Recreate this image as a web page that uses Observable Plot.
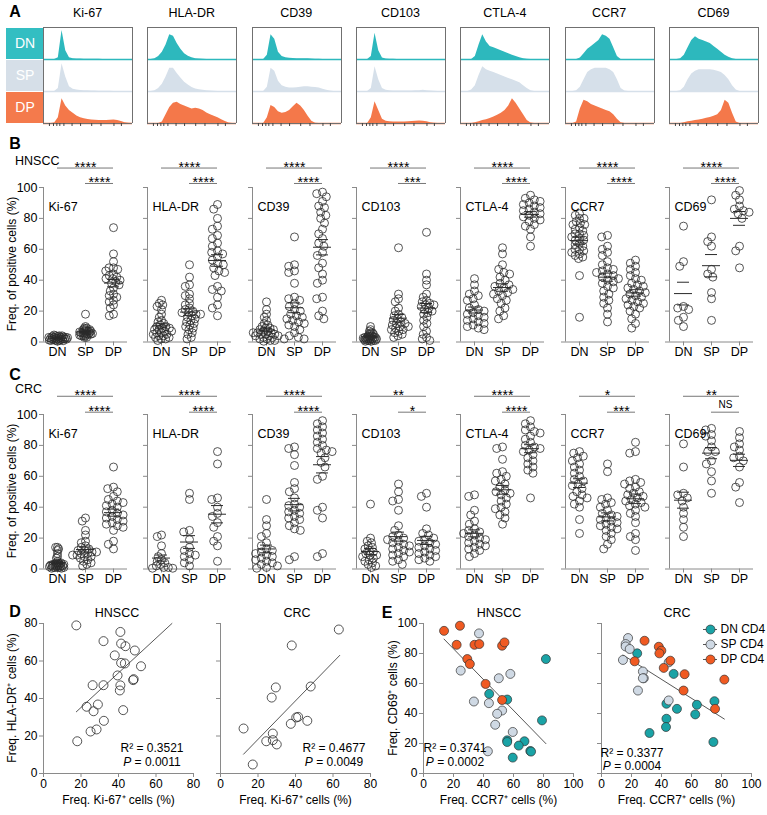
<!DOCTYPE html>
<html><head><meta charset="utf-8">
<script src="https://cdn.jsdelivr.net/npm/d3@7"></script>
<script src="https://cdn.jsdelivr.net/npm/@observablehq/plot@0.6"></script>
<style>
body{margin:0;background:#fff;}
#fig{position:relative;width:767px;height:815px;font-family:"Liberation Sans",Arial,Helvetica,sans-serif;color:#000;overflow:hidden;background:#fff}
</style></head><body><div id="fig"></div>
<script>
// ---------- categories ----------
const markers = ["Ki-67","HLA-DR","CD39","CD103","CTLA-4","CCR7","CD69"];
const groups = ["DN","SP","DP"];
const yTicks = [0,20,40,60,80,100];
const histTicks = [1.6,2.7,3.6,4.4,5.5,7.7,10,13,15.5,19,21];

// ---------- panel A: histogram heights (25 bins, DN/SP/DP) ----------
const histKi67 = [
 [0,0,0,0,0.6,10,3,0.6,0.3,0.2,0.15,0.1,0.1,0.1,0.1,0.05,0,0,0,0,0,0,0,0,0],
 [0,0,0,0,1,9.5,5,1.6,0.8,0.5,0.35,0.3,0.25,0.2,0.15,0.1,0.1,0.1,0.05,0,0,0,0,0,0],
 [0,0,0,0.2,2,8.5,6,4.5,3.5,2.6,2,1.6,1.4,1.2,1.1,1,1,1,1.1,1.2,1,0.7,0.3,0.1,0]];
const histHLADR = [
 [0,0,0.3,1,2.5,5,8.5,8,5.5,3.5,2,1.1,0.6,0.3,0.15,0.05,0,0,0,0,0,0,0,0,0],
 [0,0,0.3,1,2.5,5,8,8,6.2,4.6,3.2,2.2,1.4,0.9,0.6,0.4,0.25,0.15,0.05,0,0,0,0,0,0],
 [0,0,0,0,0.5,3,5.5,7,7.3,6.5,6,5.5,5,5.2,5,4.5,3.6,3,2.5,2,1.3,0.7,0.2,0,0]];
const histCD39 = [
 [0,0,0,0,1.5,8.5,7,2.5,1,0.6,0.45,0.35,0.3,0.3,0.3,0.25,0.2,0.1,0.05,0,0,0,0,0,0],
 [0,0,0,0,1.5,8,7,3.5,2,1.5,1.2,1.2,1.3,1.5,1.6,1.6,1.5,1.4,1.2,0.8,0.4,0.15,0,0,0],
 [0,0,0,0,2,6.2,5.5,4,3.5,3.8,4.5,5.8,7,6,4.5,2.5,0.8,0.1,0,0,0,0,0,0,0]];
const histCD103 = [
 [0,0,0,0,1,9,3,0.5,0.2,0.1,0.05,0,0,0,0,0,0,0,0,0,0,0,0,0,0],
 [0,0,0,0,1,8.5,4,1,0.4,0.3,0.2,0.2,0.2,0.2,0.2,0.2,0.3,0.3,0.4,0.3,0.2,0.1,0,0,0],
 [0,0,0,0,2,7.5,4.5,1.5,0.8,0.6,0.5,0.5,0.5,0.5,0.6,0.7,0.8,0.9,0.8,0.6,0.3,0.1,0,0,0]];
const histCTLA4 = [
 [0,0,0,0,1,5,8.5,6,4.5,4,3.5,3,2.5,2,1.5,1,0.6,0.3,0.1,0,0,0,0,0,0],
 [0,0,0,0.5,2,5.5,8.5,7.5,7,6.5,6,5.5,5,4.5,4,3.5,3,2,1,0.3,0,0,0,0,0],
 [0,0,0,0,0.3,0.6,1,1.3,1.7,2.2,2.8,3.5,4.5,6,8.5,7,5,3,1,0.2,0,0,0,0,0]];
const histCCR7 = [
 [0,0,0,0,0.5,2,3.5,4.5,5.5,6.5,8.5,8,7,4,1,0,0,0,0,0,0,0,0,0,0],
 [0,0,0,0.3,1.5,4,6.5,7.5,8,8,8,8,7.5,6.5,4,1,0.2,0,0,0,0,0,0,0,0],
 [0,0,0,0.5,5,8,7.5,6.5,6,5.5,5,4.5,4,3,1.5,0.3,0,0,0,0,0,0,0,0,0]];
const histCD69 = [
 [0,0,0,0.3,1.5,4,6.5,7.8,7,6.5,6,5.5,4.5,3.5,2.5,1.5,0.8,0.3,0,0,0,0,0,0,0],
 [0,0,0,0.3,1.5,4,6,7,7.5,7.5,7.5,7.5,7.3,7,6.5,5.5,4,2,0.5,0,0,0,0,0,0],
 [0,0,0,0,0.3,0.6,0.8,1,1.2,1.5,1.8,2.1,2.5,3,4.5,8,7,3.5,0.5,0,0,0,0,0,0]];

// ---------- panel B (HNSCC) values, % positive ----------
const hnsccKi67 = [
 [0.5,1,1,1.5,1.5,2,2,2,2,2.5,2.5,2.5,3,3,3,3,3.5,3.5,4,4,4,4.5,1,0.8,1.2,2.8,3.2,1.8],
 [18,10,9,9,8,8,7,7,7,6,6,6,6,5,5,5,5,4,4,4,3,3,8,7,6.5,5.5,4.5],
 [74,57,52,48,48,47,46,44,43,42,41,41,40,39,38,37,35,33,31,30,29,27,26,24,22,18,17]];
const hnsccHLADR = [
 [27,25,24,23,21,18,16,14,13,12,11,10,10,9,9,8,8,7,7,6,6,5,5,4,4,3,3,2,2,1],
 [50,42,37,36,31,30,28,25,24,22,21,20,19,19,18,18,17,16,15,14,13,12,11,10,9,8,6,5,3,2],
 [89,86,80,75,73,69,67,64,62,59,58,57,55,53,51,50,48,46,45,43,36,34,33,29,24,22,17]];
const hnsccCD39 = [
 [26,21,18,16,14,12,11,10,9,9,8,8,7,7,6,6,5,5,5,4,4,4,3,3,2,2,1,1,0.5,6],
 [68,50,49,46,45,38,29,28,27,25,23,21,20,18,17,16,15,14,13,12,11,10,8,6,4,3,2,2],
 [97,96,94,91,88,87,84,82,80,77,73,70,67,64,62,58,56,51,48,44,40,38,29,28,20,17,15]];
const hnsccCD103 = [
 [10,8,7,6,6,5,5,4,4,4,3,3,3,3,2,2,2,2,2,1,1,1,1,0.5,0.5,3,2.5,1.5],
 [61,31,28,26,22,20,18,17,16,15,14,13,12,12,11,10,10,9,8,8,7,6,5,4,3],
 [71,44,40,37,31,29,27,26,25,24,24,23,22,21,20,19,18,16,14,12,10,7,5,3,2,1]];
const hnsccCTLA4 = [
 [41,37,33,31,30,28,27,24,22,21,20,19,18,17,16,15,14,13,12,11,10,9,8],
 [61,57,50,47,45,44,42,40,38,37,36,35,34,33,32,31,30,28,27,25,22,20,17,15],
 [95,93,92,91,90,89,88,87,86,85,84,83,82,81,80,79,78,76,75,73,68,62]];
const hnsccCCR7 = [
 [83,82,80,80,78,77,76,76,74,73,72,70,70,69,68,67,66,66,64,63,62,60,60,59,58,57,56,55,54,43,16],
 [69,68,62,60,58,56,52,50,48,47,46,45,44,43,42,41,40,39,38,36,35,33,31,29,27,25,22,18,13],
 [53,51,49,47,45,43,41,40,38,37,36,35,34,33,32,31,30,29,28,27,26,25,24,23,22,20,18,15,12,9]];
const hnsccCD69 = [
 [75,52,49,23,22,21,16,14,10],
 [92,68,65,62,47,44,42,32,28,14],
 [98,95,92,88,86,85,84,83,80,62,59,48]];

// ---------- panel C (CRC) values ----------
const crcKi67 = [
 [14,14,13,12,10,8,7,5,4,4,3,3,3,3,2,2,2,2,2,1,1,1,1,1,0.5,0.5,3,4,2.5,1.5],
 [33,31,25,22,18,17,15,14,13,12,12,11,11,10,10,9,9,8,8,7,6,5,4,3,2],
 [66,53,52,50,47,45,44,43,42,41,40,38,37,36,35,34,33,32,31,30,29,28,27,25,18,16,13]];
const crcHLADR = [
 [22,21,15,10,8,6,5,4,3,2,1,1,0.5,0.5],
 [49,45,25,24,19,14,12,10,9,8,6,4,2],
 [76,68,46,45,40,36,34,30,27,21,18,15,5]];
const crcCD39 = [
 [45,32,28,23,21,17,15,13,12,11,10,9,8,7,6,5,4,3,2,1,0.5],
 [79,78,74,67,56,52,50,46,42,41,40,38,37,36,34,33,32,30,28,26,25,8,6],
 [96,94,92,90,88,86,84,82,80,78,77,76,75,72,69,66,60,58,40,38,33,10,8]];
const crcCD103 = [
 [42,20,18,17,15,14,13,12,11,10,9,9,8,7,6,5,4,3,2,1],
 [55,50,45,44,38,28,25,22,21,20,19,18,17,16,15,14,13,12,11,10,9,8,6,5,3],
 [49,47,40,26,23,22,20,19,18,17,16,15,14,13,12,11,10,9,8,7,6,5]];
const crcCTLA4 = [
 [48,47,38,35,31,29,26,25,24,23,22,21,20,19,18,17,16,15,14,13,12,10,8],
 [79,78,71,63,62,60,58,57,55,53,51,50,49,48,46,44,42,40,39,37,35,33,29],
 [96,94,92,90,89,88,86,84,82,80,79,78,77,76,74,72,70,68,66,64,62,46]];
const crcCCR7 = [
 [76,75,73,72,70,68,66,64,62,60,58,57,55,54,52,50,48,47,46,44,42,40,32,23],
 [68,63,46,45,43,42,40,38,36,35,34,33,32,31,30,29,28,27,26,25,23,21,19,16,13],
 [82,76,75,58,57,56,55,53,52,50,49,48,47,46,45,44,43,42,41,40,38,36,34,30,23,21,19,12]];
const crcCD69 = [
 [81,66,49,48,46,44,40,36,32,27,21],
 [91,90,87,86,83,79,76,76,70,68,63,57,49],
 [89,85,81,79,77,73,72,70,66,56,53,43]];

// significance labels: [DN vs DP, SP vs DP]
const sigPairs = [["DN","DP"],["SP","DP"]];
const sigHNSCC = [["****","****"],["****","****"],["****","****"],["****","***"],["****","****"],["****","****"],["****","****"]];
const sigCRC   = [["****","****"],["****","****"],["****","****"],["**","*"],["****","****"],["*","***"],["**","NS"]];

// ---------- panel D ----------
const dKi67H = [17.5,41,32,41.4,43.7,48.7,38,41.4,43.4,52,39.5,47.8,48.1,26.2,32,41,40.7,23,29,26.7,42.5,32.2,28.3,25.1,18];
const dHLAH  = [79,75.5,70.6,69.3,67.9,65.6,63,59,58.7,57.2,52.3,49.8,50.3,47.1,47.1,47,44.3,35.6,36.8,33.2,33.8,28.1,23.5,22.4,17.2];
const dKi67C = [12.3,17.2,24.4,27.9,27.9,30,27.3,29.5,38,37.5,40.4,41.4,46.3,48.1,63.1];
const dHLAC  = [24,4.8,17.2,21.3,17.8,15.5,40.5,45.9,68.3,26.5,29.9,30.2,28.1,46.4,76.8];
// fitted regression lines as drawn (end points)
const dFitH_x = [17.5,68.5], dFitH_y = [32.9,80];
const dFitC_x = [12.3,63.6], dFitC_y = [10.3,63];

// ---------- panel E ----------
const eSeries = ["DN CD4","SP CD4","DP CD4"];
const eH_DN_x = [81.6,43.8,55.8,79,55.8,55.8,67.3,63.5,71.2,71.7,59.5];
const eH_DN_y = [76.3,53.1,49.3,35.4,22.1,21,21.5,18.6,15,14.6,10.6];
const eH_SP_x = [37,24.8,57.9,50.2,33.6,43.6,52.4,49.1,47.8,59.5,42.9];
const eH_SP_y = [93.4,68.6,66.4,63.5,48,46.9,42,39.8,32.5,27.7,14.8];
const eH_DP_x = [13.7,24.3,22.1,34,37.2,52.4,54,29.2,30.9,41.4,52.4];
const eH_DP_y = [95.1,98.5,85.8,85.8,86.3,85.2,87.4,76.3,73,59.7,49];
const eC_DN_x = [23.8,48.1,75.3,63.6,43.3,50.3,62.5,43.3,43,32,74.6];
const eC_DN_y = [80.1,66.4,48.2,45.8,46.5,43.1,39.4,36.5,31,27,21];
const eC_SP_x = [17.7,16.1,16.1,18.8,14.3,44.8,27.6,28.2,27.6,24.3,44.8];
const eC_SP_y = [90.3,86.3,84.7,83,75.7,74.1,68,63.5,63.5,55.3,48.7];
const eC_DP_x = [28.7,38.2,39.9,38.6,22.1,45.9,41.5,55.4,54.7,81.9,75.7];
const eC_DP_y = [88.5,84.5,81.9,80.1,74.8,75.2,70.4,66.2,55.3,62.6,43.1];
const eFitH_x = [13.7,81.6], eFitH_y = [89.6,19.9];
const eFitC_x = [14.3,81.9], eFitC_y = [79,36.3];

// ---------- styles ----------
const FF = '"Liberation Sans", Arial, Helvetica, sans-serif';
const baseStyle = {fontFamily: FF, fontSize: "12px", background: "transparent", overflow: "visible", color: "#000", maxWidth: "none"};
const AX = "#8a8a8a";
const TF = 12;
const histColors = ["#2db8bd","#d6e0ea","#f4784a"];
const labelColors = ["#33bec2","#d6dfe8","#f47a4c"];
const eColors = ["#1aa3a6","#cfd9e4","#f05a22"];

const fig = document.getElementById("fig");
function put(node, left, top) {
  const w = document.createElement("div");
  w.style.position = "absolute"; w.style.left = left + "px"; w.style.top = top + "px";
  w.appendChild(node); fig.appendChild(w);
}
function label(html, x, y, o = {}) {
  const d = document.createElement("div");
  d.innerHTML = html;
  Object.assign(d.style, {position: "absolute", left: x + "px", top: y + "px", whiteSpace: "nowrap",
    fontSize: (o.size || 12) + "px", fontWeight: o.bold ? "bold" : "normal", lineHeight: "1",
    transform: `translate(${o.ax ?? -50}%, -50%)` + (o.rot ? " rotate(-90deg)" : "")});
  fig.appendChild(d);
}

// ---------- Panel A ----------
const histAll = [histKi67, histHLADR, histCD39, histCD103, histCTLA4, histCCR7, histCD69];
const colLeft = k => 43 + k * 104.33;
markers.forEach((m, k) => {
  const L = colLeft(k);
  const rows = [];
  groups.forEach((g, gi) => histAll[k][gi].forEach((v, i) => rows.push({g, i, v})));
  const p = Plot.plot({
    width: 91, height: 104, marginLeft: 1, marginRight: 1, marginTop: 1, marginBottom: 6,
    style: baseStyle,
    x: {domain: [0, 24]},
    y: {domain: [0, 11], axis: null},
    fy: {domain: groups, padding: 0, axis: null},
    color: {domain: groups, range: histColors},
    marks: [
      Plot.areaY(rows, {fy: "g", x: "i", y: "v", fill: "g"}),
      Plot.ruleY(groups, {fy: d => d, y: 0, stroke: d => d, strokeWidth: 1.3}),
      Plot.ruleX([0, 24], {stroke: "#707070"}),
      Plot.ruleY(["DN"], {fy: d => d, y: 11, stroke: "#707070"}),
      Plot.ruleY(["DP"], {fy: d => d, y: 0, stroke: "#707070"}),
      Plot.axisX({ticks: histTicks, tickSize: 3, tickFormat: () => "", stroke: "#444", label: null})
    ]
  });
  put(p, L - 1, 25);
  label(m, L + 44.5, 13, {size: 12.5});
});
const rl = Plot.plot({
  width: 37, height: 96, margin: 0, style: baseStyle,
  y: {domain: groups, axis: null, paddingInner: 0.04, paddingOuter: 0},
  color: {domain: groups, range: labelColors},
  marks: [
    Plot.cell(groups, {y: d => d, fill: d => d}),
    Plot.text(groups, {y: d => d, text: d => d, fill: "white", fontSize: 14})
  ]
});
put(rl, 6, 27);
label("A", 15, 12, {size: 16, bold: true});

// ---------- Panels B & C ----------
const sem = v => d3.deviation(v) / Math.sqrt(v.length);
const lo = v => d3.mean(v) - sem(v);
const hi = v => d3.mean(v) + sem(v);
// open ring of fixed 4px radius; the dodge layout uses a smaller packing radius so crowded columns overlap
const ring = {draw(ctx) { ctx.moveTo(4, 0); ctx.arc(0, 0, 4, 0, 2 * Math.PI); }};
function packRadius(vals) {
  const s = [...vals].sort((a, b) => a - b);
  let best = 0;
  for (let i = 0; i < s.length; i++) { let j = i; while (j < s.length && s[j] - s[i] <= 8) j++; best = Math.max(best, j - i); }
  return best >= 22 ? 0.95 : best >= 16 ? 1.9 : best >= 10 ? 2.25 : 3.0;
}

function dotPanel(vals3, marker, sigs, k, top, sigY) {
  const L = colLeft(k);
  const data = [];
  groups.forEach((g, gi) => vals3[gi].forEach(v => data.push({g, v})));
  const sig = sigPairs.map(([a, b], j) => ({fx: "DN", x1: groups.indexOf(a) + 0.5, x2: groups.indexOf(b) + 0.5, y: sigY[j], t: sigs[j]}));
  const stars = sig.filter(d => d.t !== "NS"), ns = sig.filter(d => d.t === "NS");
  const ink = "#2a2a2a";
  const dotMarks = groups.map((g, gi) => Plot.dot(data.filter(d => d.g === g),
    Plot.dodgeX({anchor: "middle", padding: 0}, {fx: "g", y: "v", r: packRadius(vals3[gi]), symbol: ring, fill: "none", stroke: ink, strokeWidth: 0.8})));
  const p = Plot.plot({
    width: 124, height: 216.5, marginLeft: 34, marginRight: 6, marginTop: 40, marginBottom: 22,
    style: baseStyle,
    fx: {domain: groups, padding: 0, label: null},
    x: {domain: [0, 1], axis: null},
    y: {domain: [0, 100]},
    marks: [
      Plot.axisY({ticks: yTicks, tickSize: 4, tickPadding: 2, stroke: AX, fill: "#000", tickFormat: k === 0 ? d => d : () => "", label: null, fontSize: 12.5}),
      Plot.axisFx({anchor: "bottom", tickSize: 4, tickPadding: 1, stroke: AX, fill: "#000", label: null, fontSize: 12.5}),
      Plot.ruleY([0], {stroke: AX}),
      Plot.ruleX([{g: "DN"}], {fx: "g", x: 0, y1: 0, y2: 100, stroke: AX}),
      ...dotMarks,
      Plot.tickY(data, Plot.groupZ({y: "mean"}, {fx: "g", y: "v", insetLeft: 5, insetRight: 5, stroke: ink})),
      Plot.ruleX(data, Plot.groupZ({y1: lo, y2: hi}, {fx: "g", y1: "v", y2: "v", stroke: ink})),
      Plot.tickY(data, Plot.groupZ({y: lo}, {fx: "g", y: "v", insetLeft: 8, insetRight: 8, stroke: ink})),
      Plot.tickY(data, Plot.groupZ({y: hi}, {fx: "g", y: "v", insetLeft: 8, insetRight: 8, stroke: ink})),
      Plot.ruleY(sig, {fx: "fx", x1: "x1", x2: "x2", y: "y", stroke: "#777"}),
      Plot.text(stars, {fx: "fx", x: d => (d.x1 + d.x2) / 2, y: "y", text: "t", dy: -1, fontSize: 14}),
      Plot.text(ns, {fx: "fx", x: d => (d.x1 + d.x2) / 2, y: "y", text: "t", dy: -7, fontSize: 10}),
      Plot.text([marker], {fx: () => "DN", frameAnchor: "top-left", textAnchor: "start", dx: 5, dy: 15, fontSize: 12.5})
    ]
  });
  put(p, L - 34, top);
}
const hnsccAll = [hnsccKi67, hnsccHLADR, hnsccCD39, hnsccCD103, hnsccCTLA4, hnsccCCR7, hnsccCD69];
const crcAll = [crcKi67, crcHLADR, crcCD39, crcCD103, crcCTLA4, crcCCR7, crcCD69];
markers.forEach((m, k) => dotPanel(hnsccAll[k], m, sigHNSCC[k], k, 146.7, [112.6, 102.6]));
markers.forEach((m, k) => dotPanel(crcAll[k], m, sigCRC[k], k, 374.3, [111.8, 101.5]));
label("B", 15, 144, {size: 16, bold: true});
label("HNSCC", 15, 161, {size: 12.5, ax: 0});
label("Freq. of positive cells (%)", 12, 264, {size: 12, rot: true});
label("C", 15, 375, {size: 16, bold: true});
label("CRC", 15, 389, {size: 12.5, ax: 0});
label("Freq. of positive cells (%)", 12, 491, {size: 12, rot: true});

// ---------- Panel D ----------
function scatterD(xs, ys, fx, fy, left, showY) {
  const pts = xs.map((x, i) => ({x, y: ys[i]}));
  const fit = fx.map((x, i) => ({x, y: fy[i]}));
  const p = Plot.plot({
    width: 194, height: 200, marginLeft: 34, marginRight: 10, marginTop: 10, marginBottom: 40,
    style: baseStyle,
    x: {domain: [0, 80]}, y: {domain: [0, 80]},
    marks: [
      Plot.axisX({ticks: [0,20,40,60,80], tickSize: 4, tickPadding: 2, stroke: AX, fill: "#000", label: "Freq. Ki-67⁺ cells (%)", labelAnchor: "center", labelOffset: 30, labelArrow: "none", fontSize: TF}),
      Plot.axisY({ticks: [0,20,40,60,80], tickSize: 4, tickPadding: 2, stroke: AX, fill: "#000", tickFormat: showY ? d => d : () => "", label: null, fontSize: TF}),
      Plot.ruleY([0], {stroke: AX}),
      Plot.ruleX([0], {y1: 0, y2: 80, stroke: AX}),
      Plot.line(fit, {x: "x", y: "y", stroke: "#444", strokeWidth: 0.9}),
      Plot.dot(pts, {x: "x", y: "y", r: 4.5, stroke: "#2a2a2a", strokeWidth: 0.8})
    ]
  });
  put(p, left - 34, 613);
}
scatterD(dKi67H, dHLAH, dFitH_x, dFitH_y, 43, true);
scatterD(dKi67C, dHLAC, dFitC_x, dFitC_y, 220, false);
label("D", 15, 612, {size: 16, bold: true});
label("HNSCC", 117, 613, {size: 12.5});
label("CRC", 297, 613, {size: 12.5});
label("Freq. HLA-DR⁺ cells (%)", 12, 698, {size: 12, rot: true});
label("R² = 0.3521", 152, 748, {size: 12});
label("<i>P</i> = 0.0011", 152, 762, {size: 12});
label("R² = 0.4677", 334, 748, {size: 12});
label("<i>P</i> = 0.0049", 334, 762, {size: 12});

// ---------- Panel E ----------
function scatterE(sets, fx, fy, left, showY) {
  const pts = [];
  sets.forEach(([xs, ys], si) => xs.forEach((x, i) => pts.push({s: eSeries[si], x, y: ys[i]})));
  const fit = fx.map((x, i) => ({x, y: fy[i]}));
  const p = Plot.plot({
    width: 194, height: 200, marginLeft: 34, marginRight: 10, marginTop: 10, marginBottom: 40,
    style: baseStyle,
    x: {domain: [0, 100]}, y: {domain: [0, 100]},
    color: {domain: eSeries, range: eColors},
    marks: [
      Plot.axisX({ticks: [0,20,40,60,80,100], tickSize: 4, tickPadding: 2, stroke: AX, fill: "#000", label: "Freq. CCR7⁺ cells (%)", labelAnchor: "center", labelOffset: 30, labelArrow: "none", fontSize: TF}),
      Plot.axisY({ticks: [0,20,40,60,80,100], tickSize: 4, tickPadding: 2, stroke: AX, fill: "#000", tickFormat: showY ? d => d : () => "", label: null, fontSize: TF}),
      Plot.ruleY([0], {stroke: AX}),
      Plot.ruleX([0], {y1: 0, y2: 100, stroke: AX}),
      Plot.line(fit, {x: "x", y: "y", stroke: "#444", strokeWidth: 0.9}),
      Plot.dot(pts, {x: "x", y: "y", r: 4.5, fill: "s", stroke: "#333", strokeWidth: 0.7})
    ]
  });
  put(p, left - 34, 613);
}
scatterE([[eH_DN_x, eH_DN_y], [eH_SP_x, eH_SP_y], [eH_DP_x, eH_DP_y]], eFitH_x, eFitH_y, 423, true);
scatterE([[eC_DN_x, eC_DN_y], [eC_SP_x, eC_SP_y], [eC_DP_x, eC_DP_y]], eFitC_x, eFitC_y, 601, false);
const leg = Plot.plot({
  width: 66, height: 47, marginLeft: 3, marginRight: 49, marginTop: 0, marginBottom: 0,
  style: baseStyle,
  y: {domain: eSeries, type: "point", padding: 0.5, axis: null},
  color: {domain: eSeries, range: eColors},
  marks: [
    Plot.ruleY(eSeries, {y: d => d, stroke: "#555"}),
    Plot.dot(eSeries, {y: d => d, fill: d => d, r: 4.5, stroke: "#333", strokeWidth: 0.7}),
    Plot.text(eSeries, {y: d => d, text: d => d, frameAnchor: "right", textAnchor: "start", dx: 3, fontSize: 12})
  ]
});
put(leg, 700, 619.5);
label("E", 387, 613, {size: 16, bold: true});
label("HNSCC", 499, 613, {size: 12.5});
label("CRC", 677, 613, {size: 12.5});
label("Freq. CD69⁺ cells (%)", 393, 698, {size: 12, rot: true});
label("R² = 0.3741", 455, 748, {size: 12});
label("<i>P</i> = 0.0002", 455, 762, {size: 12});
label("R² = 0.3377", 632, 753, {size: 12});
label("<i>P</i> = 0.0004", 632, 766, {size: 12});
</script></body></html>
